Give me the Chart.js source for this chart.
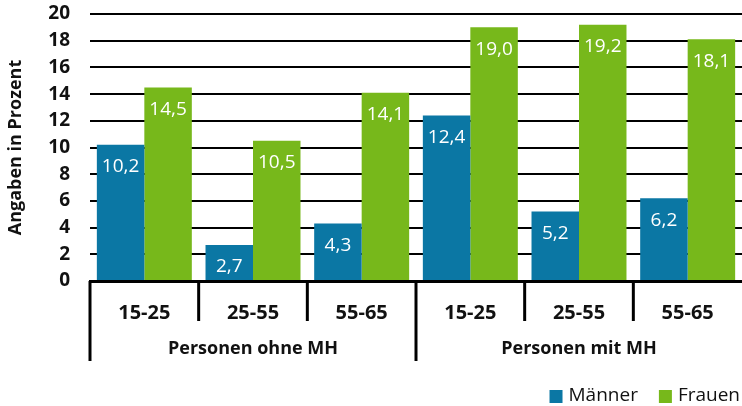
<!DOCTYPE html>
<html>
<head>
<meta charset="utf-8">
<script src="https://cdn.jsdelivr.net/npm/chart.js@4"></script>
<style>
  html, body { margin: 0; padding: 0; background: #fff; }
  #wrap { width: 742px; height: 406px; }
</style>
</head>
<body>
<div id="wrap"><canvas id="chart"></canvas></div>
<script>
const ages = ['15-25', '25-55', '55-65', '15-25', '25-55', '55-65'];
const groups = ['Personen ohne MH', 'Personen mit MH'];
const maenner = [10.2, 2.7, 4.3, 12.4, 5.2, 6.2];
const frauen = [14.5, 10.5, 14.1, 19.0, 19.2, 18.1];
const yTicks = [0, 2, 4, 6, 8, 10, 12, 14, 16, 18, 20];

const FONT = '"Open Sans", sans-serif';
const blue = '#0b77a4';
const green = '#77b81b';

// Trennlinien, Gruppenbeschriftung, Werte in den Balken und Legende
const extras = {
  id: 'extras',
  afterDatasetsDraw(chart) {
    const ctx = chart.ctx;
    const x = chart.scales.x;
    const bottom = chart.chartArea.bottom;
    const cat = x.getPixelForValue(1) - x.getPixelForValue(0);

    ctx.save();
    ctx.strokeStyle = '#000';
    ctx.lineWidth = 3;
    for (let i = 0; i < ages.length; i++) {
      const px = x.getPixelForValue(i) - cat / 2;
      const long = i % 3 === 0;
      ctx.beginPath();
      ctx.moveTo(px, bottom);
      ctx.lineTo(px, bottom + (long ? 80 : 40));
      ctx.stroke();
    }

    ctx.fillStyle = '#111';
    ctx.font = 'bold 18px ' + FONT;
    ctx.textAlign = 'center';
    ctx.textBaseline = 'middle';
    groups.forEach((g, gi) => {
      const cx = (x.getPixelForValue(gi * 3) + x.getPixelForValue(gi * 3 + 2)) / 2;
      ctx.fillText(g, cx, bottom + 68);
    });

    ctx.fillStyle = '#fff';
    ctx.font = '19px ' + FONT;
    chart.data.datasets.forEach((ds, di) => {
      chart.getDatasetMeta(di).data.forEach((bar, i) => {
        const txt = ds.data[i].toFixed(1).replace('.', ',');
        ctx.fillText(txt, bar.x, bar.y + 22);
      });
    });

    // Legende rechts unten
    ctx.font = '19px ' + FONT;
    ctx.textAlign = 'left';
    const ly = 396;
    let lx = chart.width - 2;
    const items = chart.data.datasets.slice().reverse();
    items.forEach((ds) => {
      const w = ctx.measureText(ds.label).width;
      lx -= w;
      ctx.fillStyle = '#111';
      ctx.fillText(ds.label, lx, ly);
      lx -= 6 + 13;
      ctx.fillStyle = ds.backgroundColor;
      ctx.fillRect(lx, ly - 6, 13, 13);
      lx -= 21;
    });
    ctx.restore();
  }
};

new Chart(document.getElementById('chart'), {
  type: 'bar',
  data: {
    labels: ages,
    datasets: [
      { label: 'Männer', data: maenner, backgroundColor: blue },
      { label: 'Frauen', data: frauen, backgroundColor: green }
    ]
  },
  options: {
    responsive: true,
    maintainAspectRatio: false,
    animation: false,
    categoryPercentage: 0.874,
    barPercentage: 1,
    layout: { padding: 0 },
    plugins: {
      legend: { display: false },
      tooltip: { enabled: false }
    },
    scales: {
      x: {
        grid: { display: false },
        border: { display: true, color: '#000', width: 3 },
        ticks: {
          color: '#111',
          padding: 12,
          autoSkip: false,
          maxRotation: 0,
          font: { family: FONT, size: 20, weight: 'bold' }
        },
        afterFit(s) { s.height = 125; }
      },
      y: {
        min: 0,
        max: 20,
        afterBuildTicks(s) { s.ticks = yTicks.map(v => ({ value: v })); },
        grid: { color: '#000', lineWidth: 2, drawTicks: false },
        border: { display: false },
        ticks: {
          color: '#111',
          padding: 20,
          autoSkip: false,
          font: { family: FONT, size: 19, weight: 'bold' }
        },
        title: {
          display: true,
          text: 'Angaben in Prozent',
          color: '#111',
          padding: { top: 5, bottom: 0 },
          font: { family: FONT, size: 18, weight: 'bold' }
        },
        afterFit(s) {
          s.width = 90;
          s.paddingTop = 14;
          s.paddingBottom = 0;
        }
      }
    }
  },
  plugins: [extras]
});
</script>
</body>
</html>
